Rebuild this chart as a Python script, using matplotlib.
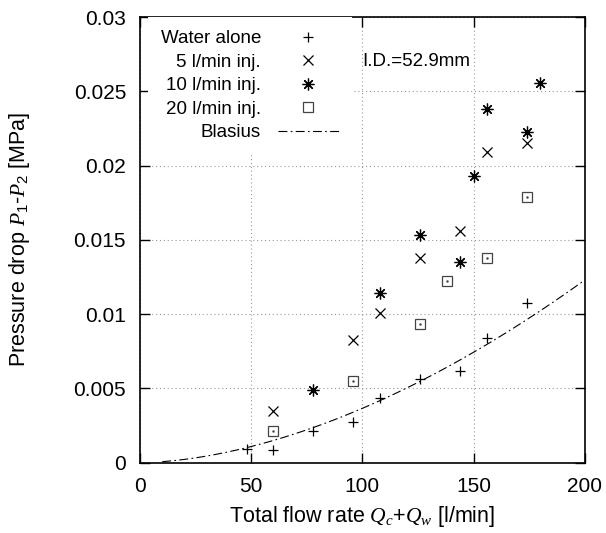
import matplotlib
matplotlib.use("Agg")
import matplotlib.pyplot as plt
import numpy as np

plt.rcParams['font.family'] = ['Liberation Sans', 'DejaVu Sans']
plt.rcParams['mathtext.fontset'] = 'custom'
plt.rcParams['mathtext.rm'] = 'Liberation Sans'
plt.rcParams['mathtext.it'] = 'Liberation Serif:italic'

q_water = [48, 60, 78, 96, 108, 126, 144, 156, 174]
dp_water = [0.00092, 0.00083, 0.00213, 0.00276, 0.00433, 0.00563, 0.00617, 0.00841, 0.01073]

q_5 = [60, 96, 108, 126, 144, 156, 174]
dp_5 = [0.00348, 0.00826, 0.01009, 0.01378, 0.01560, 0.02093, 0.02149]

q_10 = [78, 108, 126, 144, 150, 156, 174, 180]
dp_10 = [0.00489, 0.01142, 0.01532, 0.01350, 0.01929, 0.02378, 0.02227, 0.02557]

q_20 = [60, 96, 126, 138, 156, 174]
dp_20 = [0.00213, 0.00552, 0.00931, 0.01223, 0.01380, 0.01790]

# Blasius correlation: dp = k * Q^1.75
blasius_k = 1.156e-6
blasius_exp = 1.75
blasius_q = np.linspace(10, 200, 200)

x_ticks = [0, 50, 100, 150, 200]
y_ticks = [0, 0.005, 0.01, 0.015, 0.02, 0.025, 0.03]
y_tick_labels = ['0', '0.005', '0.01', '0.015', '0.02', '0.025', '0.03']

fig = plt.figure(figsize=(6.06, 5.33), dpi=100)
ax = fig.add_axes([0.231, 0.132, 0.734, 0.836])

ax.plot(q_water, dp_water, ls='none', marker='+', ms=7.5, mew=0.9, color='black', label='Water alone')
ax.plot(q_5, dp_5, ls='none', marker='x', ms=7.5, mew=0.9, color='black', label='5 l/min inj.')
ax.plot(q_10, dp_10, ls='none', marker=(8, 2, 0), ms=8.5, mew=0.9, color='black', label='10 l/min inj.')
ax.plot(q_20, dp_20, ls='none', marker='s', ms=6.5, mew=0.9, mfc='none', color='#444444', label='20 l/min inj.')
ax.plot(q_20, dp_20, ls='none', marker='.', ms=1.5, color='#444444')
ax.plot(blasius_q, blasius_k * blasius_q ** blasius_exp, color='black', lw=0.8,
        dashes=(8, 3, 1.5, 3), label='Blasius')

ax.text(100, 0.0270, 'I.D.=52.9mm', fontsize=13.5, va='center', ha='left')

ax.set_xlim(0, 200)
ax.set_ylim(0, 0.03)
ax.set_xticks(x_ticks)
ax.set_xticklabels([str(v) for v in x_ticks])
ax.set_yticks(y_ticks)
ax.set_yticklabels(y_tick_labels)
ax.tick_params(direction='in', length=7, width=1, top=True, right=True, labelsize=15, pad=10)
ax.grid(True, ls=(0, (1, 2.5)), color='#999999', lw=0.8)
for s in ax.spines.values():
    s.set_linewidth(1.2)

ax.set_xlabel('Total flow rate $Q_c$+$Q_w$ [l/min]', fontsize=15.5, labelpad=6)
ax.set_ylabel('Pressure drop $P_1$-$P_2$ [MPa]', fontsize=15.5, labelpad=30)

leg = ax.legend(loc='upper left', bbox_to_anchor=(0.017, 1.0), borderaxespad=0, markerfirst=False,
                fontsize=13.5, handlelength=3.25, handletextpad=0.9, labelspacing=0.34,
                borderpad=0.7, fancybox=False, framealpha=1, edgecolor='none')
leg.get_frame().set_linewidth(0)

fig.savefig('out.png', dpi=100)
